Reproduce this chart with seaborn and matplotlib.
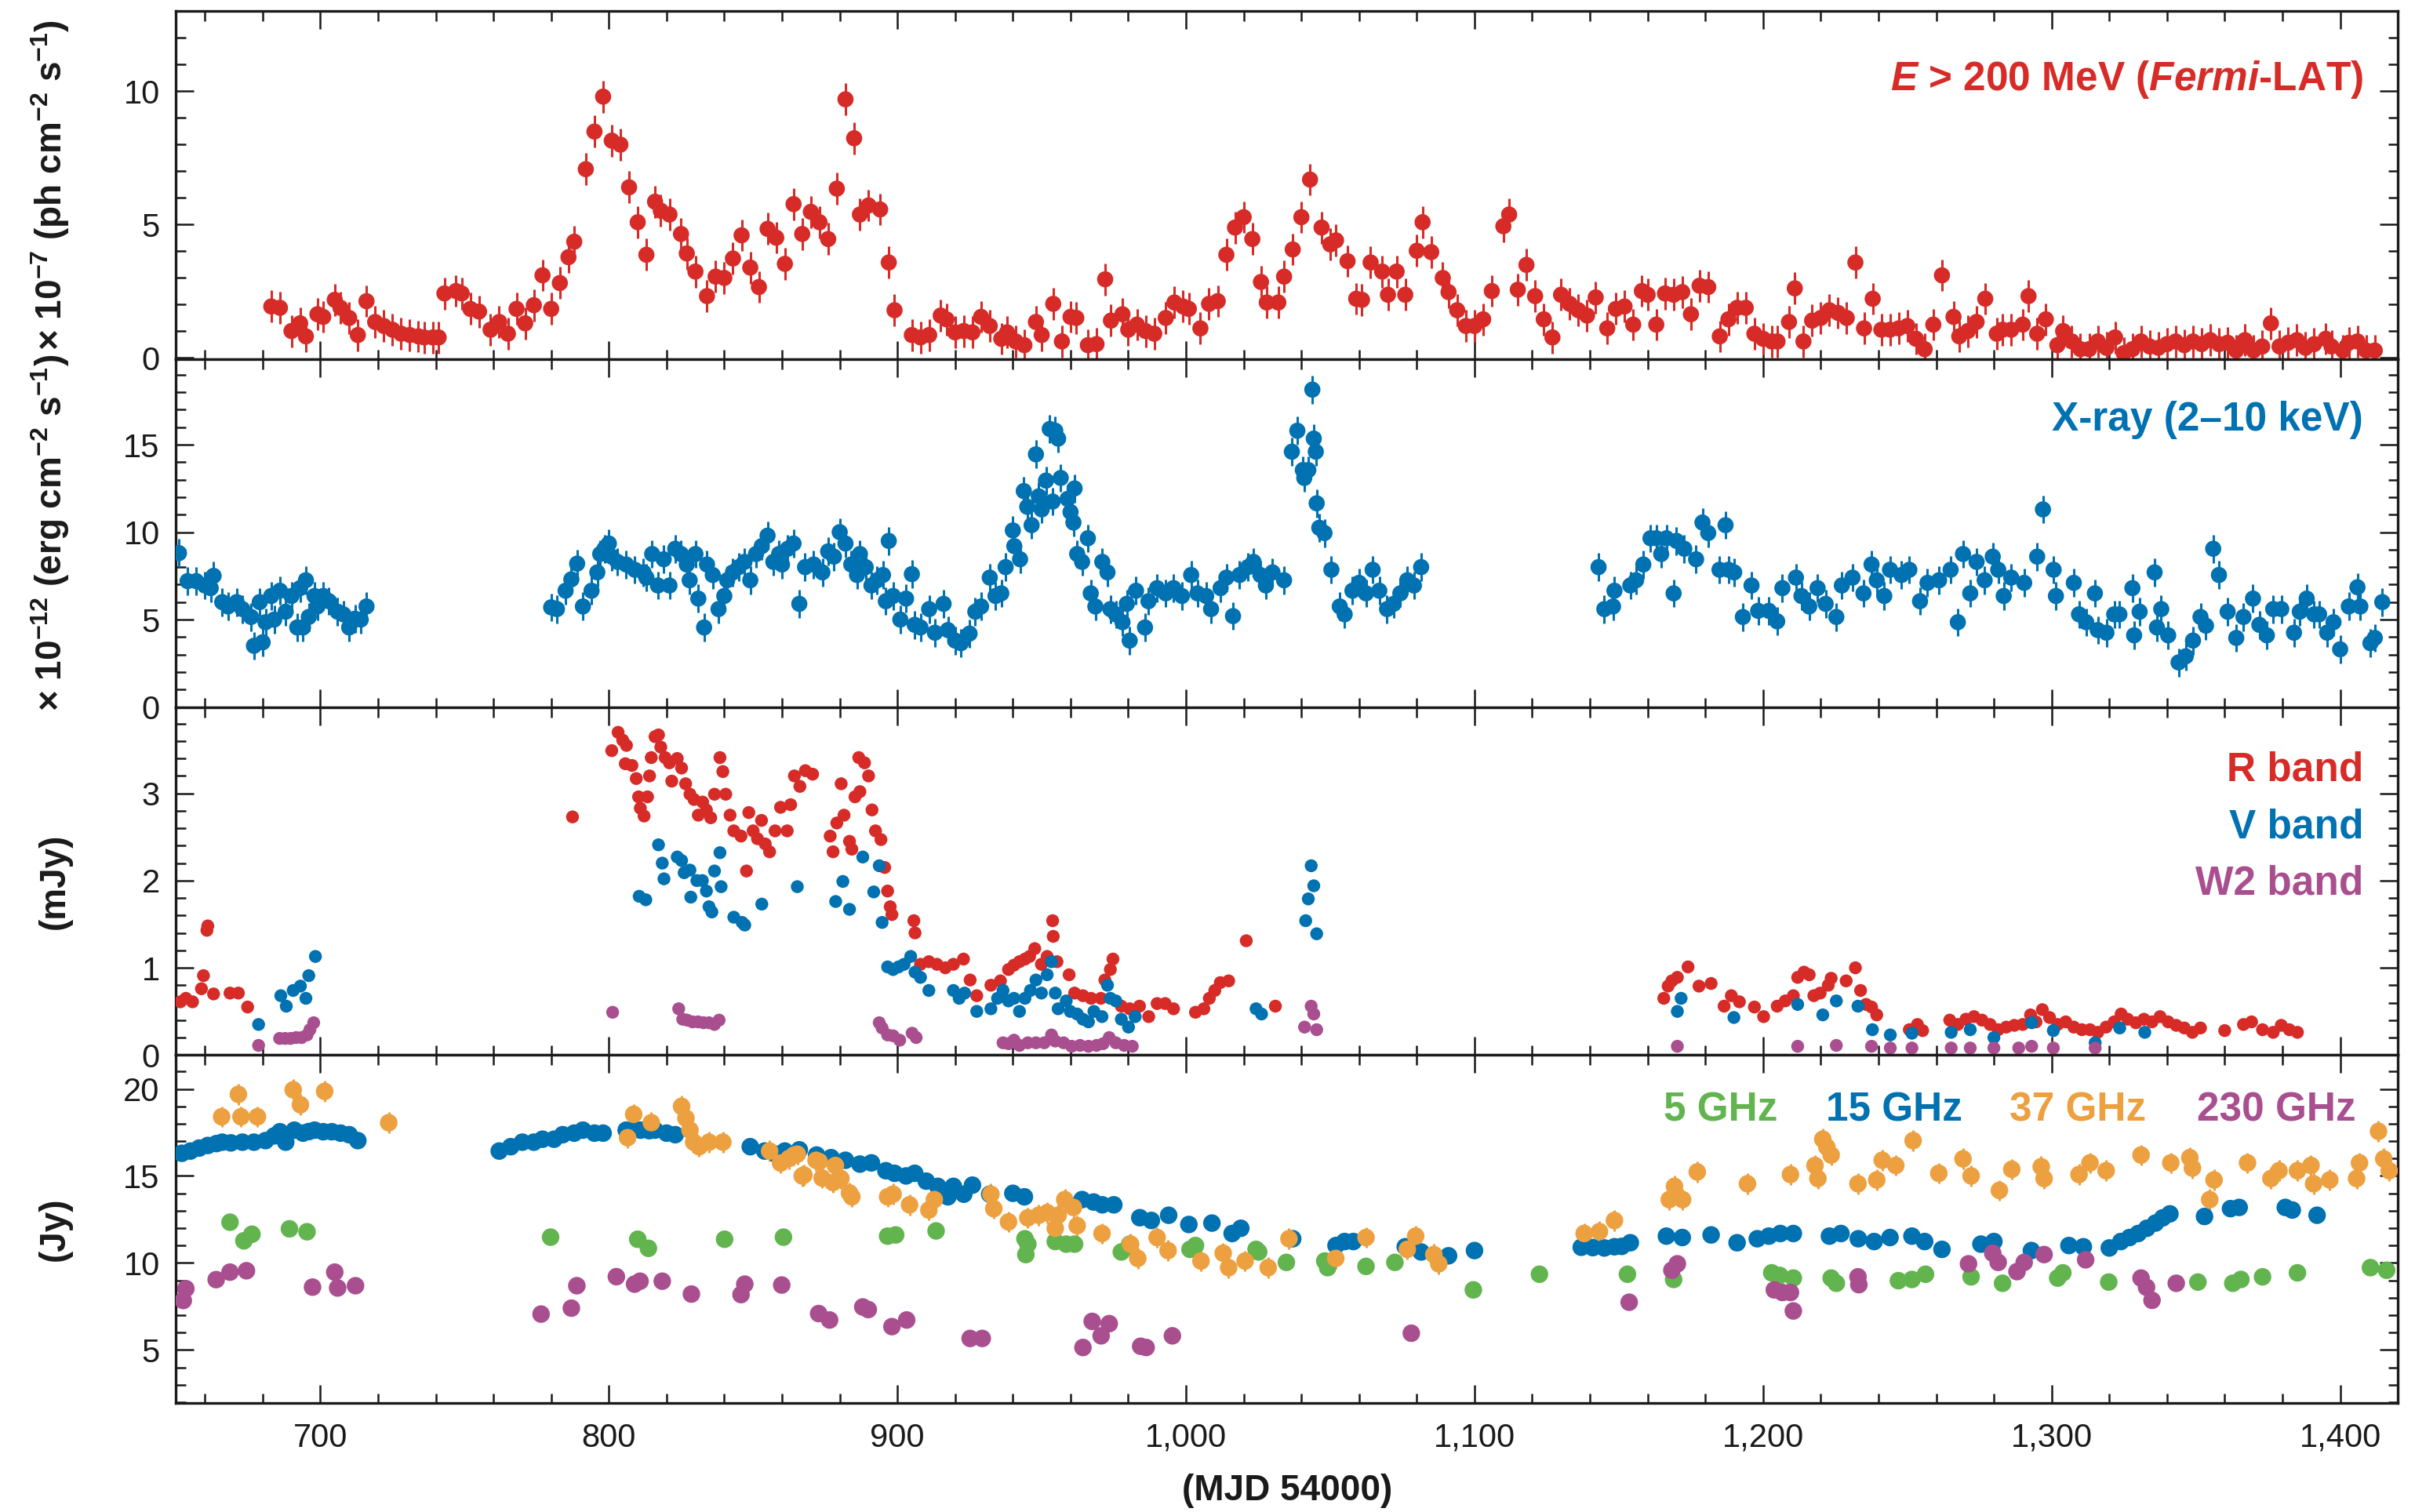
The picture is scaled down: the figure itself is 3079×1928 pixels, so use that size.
import numpy as np
import matplotlib
matplotlib.use("Agg")
import matplotlib.pyplot as plt
from matplotlib.ticker import MultipleLocator, FuncFormatter
import seaborn as sns

# ---------------------------------------------------------------- data
# Gamma-ray flux, E > 200 MeV (1e-7 ph cm^-2 s^-1)
gamma_mjd = [683, 686, 690, 693, 695, 699, 701, 705, 707, 710, 713, 716, 719, 722, 725, 728, 731,
             734, 736, 739, 741, 743, 747, 749, 752, 755, 759, 762, 765, 768, 771, 774, 777, 780,
             783, 786, 788, 792, 795, 798, 801, 804, 807, 810, 813, 816, 818, 821, 825, 827, 830,
             834, 837, 840, 843, 846, 849, 852, 855, 858, 861, 864, 867, 870, 873, 876, 879, 882,
             885, 887, 890, 894, 897, 899, 905, 908, 911, 915, 917, 920, 923, 926, 929, 932, 936,
             938, 941, 944, 948, 950, 954, 957, 960, 962, 966, 969, 972, 974, 978, 980, 983, 986,
             989, 993, 996, 999, 1001, 1005, 1008, 1011, 1014, 1017, 1020, 1023, 1026, 1028, 1032,
             1034, 1037, 1040, 1043, 1047, 1050, 1052, 1056, 1059, 1061, 1064, 1068, 1070, 1073,
             1076, 1080, 1082, 1085, 1089, 1091, 1094, 1097, 1100, 1103, 1106, 1110, 1112, 1115,
             1118, 1121, 1124, 1127, 1130, 1133, 1136, 1139, 1142, 1146, 1149, 1152, 1155, 1158,
             1160, 1163, 1166, 1169, 1172, 1175, 1178, 1181, 1185, 1188, 1191, 1194, 1197, 1200,
             1203, 1205, 1209, 1211, 1214, 1217, 1220, 1223, 1226, 1229, 1232, 1235, 1238, 1241,
             1244, 1247, 1250, 1253, 1256, 1259, 1262, 1266, 1268, 1271, 1274, 1277, 1281, 1283,
             1286, 1290, 1292, 1295, 1298, 1302, 1304, 1307, 1310, 1313, 1316, 1319, 1322, 1325,
             1328, 1331, 1334, 1337, 1340, 1343, 1346, 1349, 1352, 1355, 1358, 1361, 1364, 1367,
             1370, 1373, 1376, 1379, 1382, 1385, 1388, 1391, 1395, 1397, 1401, 1403, 1406, 1409,
             1412]
gamma_flux = [1.92, 1.87, 1.00, 1.29, 0.80, 1.63, 1.53, 2.17, 1.87, 1.49, 0.85, 2.12, 1.34, 1.19,
              1.05, 0.90, 0.85, 0.80, 0.76, 0.76, 0.76, 2.41, 2.50, 2.41, 1.83, 1.73, 1.05, 1.34,
              0.90, 1.83, 1.29, 1.97, 3.09, 1.83, 2.80, 3.77, 4.35, 7.07, 8.48, 9.79, 8.14, 7.99,
              6.39, 5.08, 3.86, 5.85, 5.51, 5.37, 4.64, 3.91, 3.23, 2.31, 3.04, 2.99, 3.72, 4.59,
              3.38, 2.65, 4.83, 4.50, 3.52, 5.76, 4.64, 5.47, 5.08, 4.45, 6.34, 9.69, 8.23, 5.37,
              5.71, 5.56, 3.57, 1.78, 0.85, 0.76, 0.85, 1.58, 1.44, 0.95, 1.00, 0.95, 1.53, 1.19,
              0.71, 0.95, 0.61, 0.47, 1.34, 0.85, 2.02, 0.61, 1.53, 1.49, 0.47, 0.51, 2.94, 1.39,
              1.63, 1.05, 1.24, 1.00, 0.90, 1.49, 2.07, 1.92, 1.83, 1.10, 2.02, 2.12, 3.86, 4.88,
              5.27, 4.45, 2.84, 2.07, 2.07, 3.04, 4.06, 5.27, 6.68, 4.88, 4.25, 4.40, 3.62, 2.21,
              2.17, 3.57, 3.23, 2.36, 3.23, 2.36, 4.01, 5.08, 3.96, 2.99, 2.46, 1.78, 1.19, 1.19,
              1.44, 2.50, 4.93, 5.37, 2.55, 3.48, 2.31, 1.44, 0.76, 2.36, 2.02, 1.78, 1.58, 2.26,
              1.10, 1.83, 1.92, 1.24, 2.50, 2.36, 1.24, 2.41, 2.36, 2.46, 1.63, 2.70, 2.65, 0.80,
              1.44, 1.87, 1.87, 0.90, 0.71, 0.61, 0.61, 1.34, 2.60, 0.61, 1.39, 1.49, 1.78, 1.68,
              1.49, 3.57, 1.10, 2.21, 1.05, 1.05, 1.10, 1.19, 0.71, 0.32, 1.24, 3.09, 1.53, 0.80,
              1.00, 1.34, 2.21, 0.90, 1.05, 1.05, 1.24, 2.31, 0.90, 1.44, 0.47, 1.00, 0.61, 0.32,
              0.32, 0.61, 0.37, 0.76, 0.17, 0.32, 0.61, 0.42, 0.37, 0.51, 0.61, 0.47, 0.61, 0.51,
              0.66, 0.51, 0.56, 0.27, 0.66, 0.27, 0.42, 1.29, 0.42, 0.56, 0.66, 0.37, 0.51, 0.71,
              0.42, 0.27, 0.56, 0.61, 0.27, 0.27]
gamma_err = 0.6

# X-ray flux, 2-10 keV (1e-12 erg cm^-2 s^-1)
xray_mjd = [651, 654, 657, 660, 662, 663, 666, 668, 671, 673, 676, 677, 679, 680, 681, 683, 684,
            686, 688, 690, 692, 693, 694, 695, 696, 698, 699, 701, 703, 706, 708, 710, 712, 714,
            716, 780, 782, 785, 787, 789, 791, 794, 796, 797, 798.5, 800, 801, 803, 806, 809, 812,
            813, 815, 817, 819, 821, 823, 825, 827, 828, 830, 831, 833, 834, 836, 838, 840, 841,
            843, 845, 847, 849, 851, 853, 855, 857, 859, 860, 862, 864, 866, 868, 871, 874, 876,
            878, 880, 882, 884, 886, 887, 889, 891, 893, 895, 896, 897, 898.5, 901, 903, 905, 906,
            908, 911, 913, 916, 917.5, 920, 922, 925, 927, 929, 932, 934, 936, 937.5, 940, 940.5,
            942.5, 943.8, 945, 946.5, 948, 949, 950, 951.5, 952.8, 953.8, 954.7, 955.7, 956.6,
            959, 960, 961, 961.4, 962.3, 964, 966, 967, 968.6, 971, 972.8, 973.8, 975.7, 978,
            979.5, 980.5, 982.7, 985.8, 987, 990, 993, 995.7, 998.6, 1001.8, 1004, 1007, 1008.7,
            1012, 1014, 1016.3, 1018.6, 1021.5, 1023.4, 1025.8, 1027.7, 1030, 1034, 1036.7,
            1038.6, 1040.5, 1041, 1042.4, 1043.8, 1044.3, 1045, 1045.3, 1046.2, 1048, 1050.4,
            1053.3, 1055, 1057.7, 1060, 1062.4, 1064.7, 1067, 1069.7, 1072, 1074.3, 1076.7, 1079,
            1081.5, 1143, 1145, 1148, 1148.5, 1154, 1156, 1158.5, 1161, 1163, 1164.7, 1166.5, 1169,
            1170, 1172.7, 1176.8, 1179, 1181, 1184.9, 1187, 1188, 1190, 1193, 1196, 1198.3, 1202,
            1204.9, 1206.7, 1211.4, 1213.3, 1216, 1218.9, 1221.7, 1225.4, 1227.3, 1231, 1234.8,
            1237.6, 1239.4, 1242, 1244, 1248, 1250.7, 1254.4, 1257, 1261, 1265, 1267.5, 1269.3,
            1271.8, 1274, 1276.8, 1279.6, 1281.5, 1283.4, 1286, 1290.5, 1295, 1297, 1300.7, 1301.5,
            1307.7, 1309.5, 1312, 1315, 1316, 1319, 1321.7, 1323.5, 1328, 1328.6, 1330.5, 1335.7,
            1336.5, 1338, 1340.4, 1344, 1346.5, 1349, 1351.6, 1353.5, 1356, 1358, 1361, 1364,
            1366.5, 1369.8, 1372, 1374.6, 1376.8, 1379.6, 1384, 1386, 1388.4, 1391, 1392.7, 1395.5,
            1397.7, 1400, 1403, 1406, 1407, 1410.5, 1412, 1414.6]
xray_flux = [8.8, 7.2, 7.2, 6.95, 6.8, 7.5, 6.0, 5.75, 6.0, 5.6, 5.15, 3.5, 6.0, 3.7, 4.85, 6.35,
             5.0, 6.65, 5.45, 6.35, 4.55, 6.8, 4.55, 7.25, 5.15, 6.35, 5.75, 6.35, 6.05, 5.45, 5.3,
             4.55, 5.05, 5.0, 5.75, 5.7, 5.6, 6.65, 7.3, 8.2, 5.75, 6.65, 7.7, 8.75, 9.05, 9.35,
             8.6, 8.3, 8.15, 7.85, 7.7, 7.4, 8.75, 6.95, 8.45, 6.95, 9.05, 8.75, 8.15, 7.25, 8.75,
             6.2, 4.55, 8.15, 7.55, 5.6, 6.35, 7.25, 7.7, 8.0, 8.3, 7.25, 8.75, 9.2, 9.8, 8.3,
             8.75, 8.15, 9.05, 9.35, 5.9, 8.0, 8.15, 7.7, 8.9, 8.6, 10.0, 9.35, 8.15, 7.55, 8.75,
             8.0, 6.95, 7.25, 7.55, 6.05, 9.5, 6.35, 5.0, 6.2, 7.6, 4.7, 4.55, 5.6, 4.25, 5.9, 4.4,
             3.8, 3.65, 4.2, 5.45, 5.75, 7.4, 6.35, 6.5, 8.0, 10.1, 9.2, 8.45, 12.35, 11.45, 10.4,
             14.45, 12.05, 11.3, 12.95, 15.9, 11.75, 15.8, 15.35, 13.1, 11.9, 11.15, 10.55, 12.5,
             8.75, 8.3, 9.65, 6.5, 5.75, 8.3, 7.7, 5.6, 5.3, 4.85, 5.9, 3.8, 6.65, 4.55, 6.05, 6.8,
             6.5, 6.8, 6.35, 7.55, 6.5, 6.35, 5.6, 6.8, 7.4, 5.2, 7.55, 8.0, 8.3, 7.55, 6.95, 7.7,
             7.25, 14.6, 15.8, 13.55, 13.1, 13.55, 18.15, 15.35, 14.6, 11.65, 10.25, 9.95, 7.85,
             5.75, 5.3, 6.65, 7.1, 6.5, 7.85, 6.65, 5.6, 5.9, 6.5, 7.25, 6.95, 8.0, 8.0, 5.6, 5.75,
             6.65, 6.95, 7.25, 8.15, 9.65, 9.65, 8.75, 9.65, 6.5, 9.5, 9.05, 8.45, 10.55, 9.95,
             7.85, 10.4, 7.85, 7.7, 5.15, 6.95, 5.5, 5.5, 4.9, 6.8, 7.4, 6.35, 5.75, 6.8, 5.9,
             5.15, 6.95, 7.4, 6.5, 8.15, 7.25, 6.35, 7.85, 7.55, 7.85, 6.05, 7.1, 7.25, 7.85, 4.85,
             8.75, 6.5, 8.3, 7.25, 8.6, 7.85, 6.35, 7.4, 7.1, 8.6, 11.3, 7.85, 6.35, 7.1, 5.3, 4.85,
             6.5, 4.4, 4.25, 5.3, 5.3, 6.8, 4.1, 5.45, 7.7, 4.55, 5.6, 4.1, 2.55, 2.9, 3.8, 5.15,
             4.65, 9.05, 7.55, 5.45, 3.95, 5.15, 6.2, 4.7, 4.1, 5.6, 5.6, 4.25, 5.45, 6.2, 5.3, 5.3,
             4.25, 4.85, 3.3, 5.75, 6.85, 5.75, 3.65, 3.95, 6.0]
xray_err = 0.8

# Optical / UV flux densities (mJy)
r_mjd = [651.5, 653.4, 655.7, 658.8, 659.5, 660.7, 661, 663, 668.7, 671.6, 674.8, 787.4, 801,
         803.2, 804.8, 805.7, 806.1, 808, 809.5, 810.3, 810.9, 812.2, 813.4, 814.1, 814.7, 816,
         817.2, 818, 819.5, 821, 821.8, 823.7, 825.2, 826.6, 828.1, 829.5, 831, 832.5, 833.8,
         835.3, 836.6, 838.5, 839.5, 840.5, 842, 843.3, 845.8, 847.7, 848.5, 850, 851.5, 852.9,
         854.2, 855.7, 857.6, 859.5, 861.8, 863, 864.3, 866.2, 868.1, 870.6, 876.7, 877.7, 879,
         880.5, 881.5, 883.4, 884.2, 885.3, 886.6, 887, 888.6, 890, 891.2, 892.4, 894.3, 895.6,
         896.6, 897.5, 898.1, 905.7, 906.1, 908, 910.9, 913.7, 916.6, 919.4, 922.9, 925.2, 927.5,
         932.4, 935.7, 938.5, 940.4, 942.3, 944.2, 945.8, 947.6, 949.9, 951.9, 953.8, 954,
         955.3, 959.5, 961.4, 964.3, 967.1, 970.5, 971.9, 973.8, 974.7, 977.6, 980.5, 983.9,
         987.1, 990, 992.8, 995.7, 1003.3, 1006.2, 1008.1, 1010, 1011.9, 1014.8, 1020.9, 1031,
         1165.6, 1167.1, 1168.4, 1170.3, 1174, 1177.8, 1182, 1186.5, 1189, 1191.8, 1197, 1200.2,
         1204.9, 1207.7, 1210.5, 1212, 1214.2, 1216, 1217.6, 1219.8, 1222.6, 1223.6, 1228.8,
         1232, 1233.8, 1235.7, 1237.6, 1239.4, 1250.7, 1253.5, 1255.3, 1264.7, 1267.5, 1270.3,
         1273.1, 1275.9, 1278.7, 1281.5, 1284.3, 1287.1, 1290, 1292.7, 1294.6, 1296.8, 1299.3,
         1302.1, 1304.9, 1307.7, 1310.5, 1313.3, 1316, 1318.9, 1321.7, 1324.1, 1326.4, 1329.2,
         1332, 1334.8, 1337.6, 1340.4, 1343.2, 1346, 1348.8, 1351.6, 1360, 1366.5, 1369.3,
         1373.1, 1376.8, 1379.6, 1382.4, 1385.2]
r_flux = [0.61, 0.65, 0.61, 0.76, 0.91, 1.43, 1.48, 0.70, 0.71, 0.71, 0.55, 2.73, 3.49, 3.70,
          3.61, 3.34, 3.55, 3.32, 3.17, 2.96, 2.83, 2.74, 2.96, 3.20, 3.41, 3.65, 3.67, 3.53,
          3.41, 3.35, 3.14, 3.40, 3.29, 3.11, 2.99, 2.93, 2.75, 2.90, 2.81, 2.72, 2.99, 3.41,
          3.25, 2.99, 2.75, 2.57, 2.51, 2.11, 2.78, 2.57, 2.48, 2.69, 2.42, 2.33, 2.57, 2.84,
          2.57, 2.87, 3.20, 3.08, 3.26, 3.22, 2.51, 2.33, 2.66, 3.11, 2.75, 2.45, 2.36, 2.96,
          3.41, 3.02, 3.35, 3.20, 2.81, 2.57, 2.47, 2.15, 1.88, 1.70, 1.61, 1.54, 1.40, 1.04,
          1.07, 1.04, 1.00, 1.04, 1.10, 0.86, 0.68, 0.80, 0.85, 0.98, 1.03, 1.07, 1.10, 1.13,
          1.22, 1.04, 1.13, 1.54, 1.36, 1.07, 0.92, 0.71, 0.68, 0.65, 0.65, 0.86, 0.98, 1.10,
          0.56, 0.53, 0.56, 0.44, 0.59, 0.59, 0.53, 0.49, 0.53, 0.65, 0.74, 0.83, 0.85, 1.31,
          0.56, 0.65, 0.79, 0.85, 0.89, 1.01, 0.79, 0.82, 0.56, 0.68, 0.61, 0.55, 0.44, 0.56,
          0.62, 0.68, 0.89, 0.95, 0.92, 0.68, 0.71, 0.80, 0.88, 0.85, 1.00, 0.74, 0.58, 0.55,
          0.46, 0.29, 0.35, 0.28, 0.40, 0.35, 0.41, 0.44, 0.40, 0.35, 0.29, 0.32, 0.34, 0.35,
          0.46, 0.38, 0.52, 0.43, 0.35, 0.38, 0.32, 0.29, 0.29, 0.26, 0.32, 0.38, 0.47, 0.41,
          0.37, 0.41, 0.38, 0.44, 0.38, 0.34, 0.31, 0.26, 0.31, 0.28, 0.35, 0.38, 0.29, 0.26,
          0.34, 0.29, 0.26]
r_err = 0.06

v_mjd = [678.6, 686.3, 688.2, 690.6, 693.1, 695, 696, 698.3, 810.5, 812.8, 817.2, 818.5, 819.1,
         823.7, 825.2, 826.1, 828.1, 828.4, 830.5, 832.4, 833.8, 834.7, 835.7, 836.6, 838.5,
         838.9, 843.3, 846.2, 847.1, 853, 865.3, 878.6, 881.1, 883.4, 888, 891.8, 893.7, 894.7,
         896.6, 898.5, 900.4, 902.3, 904.6, 906.1, 908, 910.9, 919.4, 921.4, 923.3, 927.5,
         932.4, 934.7, 936.6, 938.5, 940.4, 942.3, 944.2, 946.1, 948, 949.9, 951.9, 953.4,
         954.7, 955.7, 958.5, 959.9, 962.3, 964.3, 966.2, 968.1, 970.9, 972.8, 973.8, 975.7,
         977.6, 980.1, 982.4, 1024.3, 1026.2, 1041.5, 1042.4, 1043.4, 1044.3, 1045.3, 1170.3,
         1171.6, 1189.9, 1212, 1220.7, 1225.4, 1232.9, 1237.9, 1244.1, 1251.6, 1265.2, 1271.8,
         1280, 1293.1, 1300.6, 1315.1, 1323.6, 1332.3]
v_flux = [0.35, 0.68, 0.56, 0.74, 0.79, 0.65, 0.91, 1.13, 1.82, 1.78, 2.41, 2.20, 2.02, 2.27,
          2.23, 2.09, 2.12, 1.81, 2.00, 2.00, 1.88, 1.70, 1.64, 2.11, 2.32, 1.93, 1.58, 1.52,
          1.49, 1.73, 1.93, 1.76, 1.99, 1.67, 2.27, 1.87, 2.17, 1.52, 1.01, 0.98, 1.01, 1.04,
          1.13, 0.95, 0.89, 0.74, 0.74, 0.65, 0.71, 0.50, 0.53, 0.65, 0.74, 0.62, 0.65, 0.50,
          0.65, 0.74, 0.86, 0.71, 0.92, 1.07, 0.71, 0.53, 0.62, 0.50, 0.47, 0.41, 0.38, 0.50,
          0.44, 0.80, 0.65, 0.62, 0.41, 0.32, 0.44, 0.53, 0.47, 1.54, 1.79, 2.17, 1.94, 1.39,
          0.50, 0.65, 0.43, 0.58, 0.46, 0.62, 0.56, 0.29, 0.23, 0.25, 0.26, 0.29, 0.20, 0.37,
          0.28, 0.14, 0.31, 0.26]

w2_mjd = [678.6, 685.9, 687.8, 689.7, 691.6, 693.5, 695.4, 696.4, 697.7, 801.3, 824.2, 825.6,
          827.1, 829, 830.9, 832.8, 834.7, 836.6, 838.2, 893.7, 894.7, 896.6, 898.5, 900.8,
          905.1, 906.5, 936.6, 938.5, 940.4, 942.3, 945.2, 948, 950.9, 953.4, 954.7, 957.6,
          960.4, 963.3, 966.2, 969, 971.3, 973.4, 975.7, 978.6, 981.4, 1041.1, 1043.4, 1044.3,
          1045.3, 1170.3, 1212, 1225.4, 1237.6, 1244.1, 1251.6, 1265.2, 1271.8, 1280, 1288.6,
          1293.1, 1300.6, 1315.1]
w2_flux = [0.11, 0.19, 0.19, 0.19, 0.20, 0.20, 0.23, 0.29, 0.37, 0.49, 0.53, 0.41, 0.40, 0.38,
           0.38, 0.37, 0.37, 0.35, 0.40, 0.37, 0.31, 0.23, 0.22, 0.17, 0.25, 0.20, 0.14, 0.13,
           0.17, 0.11, 0.14, 0.14, 0.14, 0.23, 0.16, 0.14, 0.10, 0.11, 0.10, 0.11, 0.13, 0.20,
           0.14, 0.11, 0.10, 0.32, 0.56, 0.47, 0.29, 0.10, 0.10, 0.11, 0.10, 0.08, 0.08, 0.08,
           0.08, 0.08, 0.08, 0.10, 0.08, 0.08]

# Radio flux densities (Jy)
ghz15_mjd = [652, 655, 658, 661, 664, 666, 669, 673, 677, 681, 684, 686, 688, 691, 694, 696, 698,
             701, 704, 707, 710, 713, 762, 766, 770, 774, 777, 781, 784, 788, 791, 795, 798, 806,
             809, 811, 814, 816, 820, 823, 849, 854, 858, 861, 866, 872, 877, 882, 887, 891, 896,
             899, 903, 906, 910, 914, 917.5, 919.4, 923, 926, 932, 940, 944, 964, 968, 971, 975,
             984, 988, 994, 1001, 1009, 1016, 1019, 1037, 1052, 1055, 1058, 1076, 1081.5, 1091,
             1100, 1137, 1141, 1145, 1148.5, 1151, 1154, 1166.5, 1172, 1182, 1191, 1198, 1202,
             1206, 1210.5, 1223, 1227, 1233, 1238.5, 1244, 1251.6, 1256, 1262, 1275.5, 1280, 1293,
             1306, 1311, 1320, 1324, 1327, 1330, 1333, 1336, 1338.5, 1341, 1353, 1362, 1365, 1381,
             1383.4, 1392]
ghz15_flux = [16.3, 16.43, 16.6, 16.75, 16.86, 16.94, 16.9, 16.94, 16.94, 17.03, 17.3, 17.54,
              16.94, 17.63, 17.46, 17.55, 17.63, 17.54, 17.54, 17.46, 17.37, 17.03, 16.43, 16.68,
              16.94, 16.94, 17.11, 17.11, 17.37, 17.46, 17.63, 17.46, 17.46, 17.63, 17.7, 17.63,
              17.6, 17.63, 17.46, 17.37, 16.68, 16.43, 16.25, 16.43, 16.5, 16.2, 16.05, 15.9,
              15.68, 15.75, 15.3, 15.15, 15.0, 15.15, 14.7, 14.4, 13.8, 14.4, 13.95, 14.47, 13.95,
              14.0, 13.8, 13.64, 13.5, 13.34, 13.34, 12.6, 12.44, 12.74, 12.21, 12.29, 11.69,
              11.99, 11.39, 11.0, 11.23, 11.23, 10.93, 10.63, 10.41, 10.71, 10.9, 10.88, 10.86,
              10.93, 10.95, 11.16, 11.54, 11.46, 11.61, 11.16, 11.39, 11.54, 11.69, 11.69, 11.54,
              11.69, 11.39, 11.23, 11.46, 11.54, 11.23, 10.78, 11.08, 11.23, 10.71, 11.0, 10.93,
              10.86, 11.23, 11.46, 11.69, 11.99, 12.29, 12.59, 12.82, 12.67, 13.12, 13.19, 13.19,
              13.04, 12.74]
ghz15_err = 0.25

ghz37_mjd = [665.8, 671.6, 672.5, 678.2, 690.6, 693.1, 701.5, 723.7, 806.5, 808.6, 814.7, 825.2,
             826.7, 828.1, 829.4, 831.3, 834.7, 839.5, 855.7, 859.5, 862.4, 864.2, 865.3, 867,
             867.6, 871.8, 872.9, 873.9, 877.7, 878.5, 880.4, 883.4, 884.2, 896.6, 898.5, 904.2,
             910.9, 912.8, 932.4, 933.4, 938.5, 945.2, 949, 951.9, 954.7, 955.7, 958, 961, 962.3,
             970.9, 980.8, 983.3, 990, 993.8, 1005.2, 1012.9, 1014.8, 1020.5, 1028.5, 1035.7,
             1051.9, 1062.4, 1076.7, 1079.6, 1085.9, 1087.6, 1138, 1143.3, 1148.5, 1167.5, 1169.3,
             1172.1, 1177.2, 1194.6, 1209.5, 1218, 1219, 1220.7, 1222.1, 1223.6, 1232.9, 1239.4,
             1241.3, 1246, 1252, 1260.9, 1269.3, 1272.1, 1281.9, 1286.2, 1296.4, 1297.4, 1309.5,
             1313.3, 1318.9, 1331, 1341.3, 1347.9, 1348.8, 1354.8, 1356.3, 1367.9, 1376, 1378.8,
             1385.2, 1389.9, 1390.8, 1396.4, 1405.7, 1406.7, 1413.3, 1415.1, 1417]
ghz37_flux = [18.4, 19.69, 18.4, 18.4, 19.95, 19.09, 19.86, 18.06, 17.2, 18.54, 18.06, 19.0,
              18.32, 17.63, 16.94, 16.68, 16.94, 16.94, 16.43, 15.74, 16.0, 16.2, 16.25, 15.0,
              15.05, 15.9, 15.82, 14.88, 14.62, 15.6, 14.85, 14.02, 13.8, 13.8, 13.95, 13.34,
              13.04, 13.64, 13.95, 13.12, 12.36, 12.59, 12.74, 12.89, 11.99, 12.74, 13.64, 13.19,
              12.14, 11.69, 11.08, 10.26, 11.46, 10.71, 10.11, 10.56, 9.73, 10.11, 9.73, 11.39,
              10.26, 11.46, 10.78, 11.54, 10.48, 9.95, 11.69, 11.8, 12.44, 13.64, 14.4, 13.64,
              15.23, 14.55, 15.08, 15.6, 14.85, 17.11, 16.66, 16.2, 14.55, 14.77, 15.9, 15.6,
              17.03, 15.15, 15.98, 15.0, 14.17, 15.38, 15.53, 14.85, 15.08, 15.75, 15.3, 16.2,
              15.75, 16.05, 15.45, 13.64, 14.77, 15.75, 14.85, 15.3, 15.3, 15.6, 14.55, 14.77,
              14.85, 15.75, 17.56, 15.98, 15.3]
ghz37_err = 0.6

ghz5_mjd = [668.7, 673.5, 676.3, 689.3, 695.4, 779.8, 810, 813.7, 840.1, 860.5, 896.6, 899.4,
            913.4, 944.2, 944.5, 945.2, 954.7, 958.5, 961.4, 977.6, 980.5, 1001.4, 1003.3, 1024.3,
            1025.2, 1034.8, 1048.1, 1049.1, 1062.4, 1072.4, 1099.6, 1122.5, 1153, 1169, 1203,
            1205.8, 1210.5, 1223.6, 1225.4, 1246.9, 1251.6, 1256.3, 1272.1, 1283, 1302.1, 1303.9,
            1319.8, 1350.7, 1362.8, 1365.6, 1373.1, 1385.2, 1410.5, 1416.1]
ghz5_flux = [12.34, 11.27, 11.65, 11.96, 11.79, 11.48, 11.36, 10.84, 11.36, 11.48, 11.54, 11.61,
             11.84, 11.39, 10.48, 11.08, 11.23, 11.08, 11.08, 10.63, 11.08, 10.78, 11.0, 10.78,
             10.63, 10.03, 10.11, 9.73, 9.8, 10.03, 8.45, 9.35, 9.35, 9.05, 9.43, 9.28, 9.13,
             9.13, 8.83, 8.98, 9.05, 9.35, 9.2, 8.83, 9.13, 9.43, 8.9, 8.9, 8.83, 9.05, 9.2, 9.43,
             9.73, 9.58]

ghz230_mjd = [652.5, 653.4, 663.9, 668.7, 674.4, 697.3, 705, 706, 712.2, 776.5, 787, 788.9,
              802.6, 808.9, 810.8, 818.5, 828.6, 845.8, 847.1, 859.9, 872.7, 876.5, 888, 889.9,
              898.1, 903.2, 925.2, 929.4, 964.3, 967.5, 970.6, 973.4, 984.3, 986.2, 995.3, 1078.1,
              1153.6, 1168.4, 1170.3, 1203.9, 1206.7, 1209.5, 1210.5, 1232.9, 1233.2, 1271.2,
              1279.6, 1281.5, 1288, 1290.5, 1297.4, 1311.8, 1331, 1332.9, 1334.8, 1343.2]
ghz230_flux = [7.84, 8.52, 9.04, 9.47, 9.55, 8.61, 9.47, 8.56, 8.69, 7.06, 7.4, 8.69, 9.21, 8.78,
               8.95, 8.95, 8.21, 8.18, 8.78, 8.73, 7.09, 6.72, 7.47, 7.32, 6.34, 6.72, 5.66, 5.66,
               5.14, 6.64, 5.81, 6.51, 5.21, 5.14, 5.81, 5.96, 7.74, 9.58, 9.95, 8.45, 8.3, 8.3,
               7.24, 9.2, 8.75, 9.95, 10.56, 10.03, 9.5, 10.03, 10.48, 10.18, 9.13, 8.6, 7.85, 8.83]
ghz230_err = 0.3

# ---------------------------------------------------------------- style
RED = "#d62b27"
BLUE = "#0071b1"
ORANGE = "#eda040"
GREEN = "#62b44f"
PURPLE = "#a94f8f"

sns.set_theme(style="ticks")
plt.rcParams["font.family"] = ["Liberation Sans", "DejaVu Sans"]
plt.rcParams["mathtext.fontset"] = "custom"
plt.rcParams["mathtext.default"] = "regular"
plt.rcParams["mathtext.it"] = "Liberation Sans:italic:bold"
plt.rcParams["mathtext.rm"] = "Liberation Sans:bold"
plt.rcParams["mathtext.bf"] = "Liberation Sans:bold"

fig, axes = plt.subplots(4, 1, sharex=True, figsize=(30.79, 19.28), dpi=100,
                         gridspec_kw=dict(hspace=0))
fig.subplots_adjust(left=0.0729, right=0.9929, top=0.9927, bottom=0.0721)


def draw(ax, x, y, color, size, err=None):
    x = np.asarray(x, float)
    y = np.asarray(y, float)
    if err:
        ax.errorbar(x, y, yerr=err, fmt="none", ecolor=color, elinewidth=2.2,
                    capsize=0, zorder=2)
    sns.scatterplot(x=x, y=y, ax=ax, color=color, s=size, linewidth=0,
                    edgecolor="none", zorder=3, legend=False)


# panel 1: gamma rays
draw(axes[0], gamma_mjd, gamma_flux, RED, 220, gamma_err)
# panel 2: X-rays
draw(axes[1], xray_mjd, xray_flux, BLUE, 220, xray_err)
# panel 3: optical / UV
draw(axes[2], r_mjd, r_flux, RED, 140, r_err)
draw(axes[2], v_mjd, v_flux, BLUE, 140)
draw(axes[2], w2_mjd, w2_flux, PURPLE, 140)
# panel 4: radio
draw(axes[3], ghz15_mjd, ghz15_flux, BLUE, 260, ghz15_err)
draw(axes[3], ghz5_mjd, ghz5_flux, GREEN, 260)
draw(axes[3], ghz37_mjd, ghz37_flux, ORANGE, 260, ghz37_err)
draw(axes[3], ghz230_mjd, ghz230_flux, PURPLE, 260, ghz230_err)

ylims = [(-0.05, 13.0), (0.0, 19.9), (0.0, 3.99), (1.95, 21.95)]
ymajor = [5, 5, 1, 5]
yminor = [1, 1, 0.2, 1]
ylabels = [r"× 10$^{-7}$ (ph cm$^{-2}$ s$^{-1}$)",
           r"× 10$^{-12}$ (erg cm$^{-2}$ s$^{-1}$)",
           "(mJy)", "(Jy)"]

for ax, lim, mj, mn, lab in zip(axes, ylims, ymajor, yminor, ylabels):
    ax.set_xlim(650, 1420)
    ax.set_ylim(*lim)
    ax.yaxis.set_major_locator(MultipleLocator(mj))
    ax.yaxis.set_minor_locator(MultipleLocator(mn))
    ax.xaxis.set_major_locator(MultipleLocator(100))
    ax.xaxis.set_minor_locator(MultipleLocator(20))
    ax.tick_params(which="both", direction="in", top=True, right=True,
                   width=1.8, color="#1a1a1a", labelsize=30, labelcolor="#1a1a1a")
    ax.tick_params(which="major", length=16.5)
    ax.tick_params(which="minor", length=9)
    ax.tick_params(axis="y", pad=15)
    ax.tick_params(axis="x", pad=18)
    for sp in ax.spines.values():
        sp.set_linewidth(2.4)
        sp.set_color("#1a1a1a")
    ax.set_ylabel(lab, fontsize=33, fontweight="bold", color="#1a1a1a")
    ax.yaxis.set_label_coords(-0.047, 0.5)
    ax.set_xlabel("")

axes[3].xaxis.set_major_formatter(FuncFormatter(lambda v, p: f"{int(round(v)):,}"))
fig.text(0.533, 1 - 1901 / 1928, "(MJD 54000)", ha="center", va="center",
         fontsize=33, fontweight="bold", color="#1a1a1a")

# band labels
tx = 0.9845
axes[0].text(tx, 0.802, r"$\mathit{E}$ > 200 MeV ($\mathit{Fermi}$-LAT)",
             transform=axes[0].transAxes, ha="right", va="center",
             fontsize=37, fontweight="bold", color=RED)
axes[1].text(tx, 0.824, "X-ray (2–10 keV)", transform=axes[1].transAxes,
             ha="right", va="center", fontsize=37, fontweight="bold", color=BLUE)
for txt, yy, col in [("R band", 0.819, RED), ("V band", 0.654, BLUE), ("W2 band", 0.491, PURPLE)]:
    axes[2].text(tx, yy, txt, transform=axes[2].transAxes, ha="right", va="center",
                 fontsize=37, fontweight="bold", color=col)
for txt, xx, col in [("5 GHz", 0.6953, GREEN), ("15 GHz", 0.7732, BLUE),
                     ("37 GHz", 0.8561, ORANGE), ("230 GHz", 0.9455, PURPLE)]:
    axes[3].text(xx, 0.84, txt, transform=axes[3].transAxes, ha="center", va="center",
                 fontsize=37, fontweight="bold", color=col)

fig.savefig("out.png", dpi=100)
